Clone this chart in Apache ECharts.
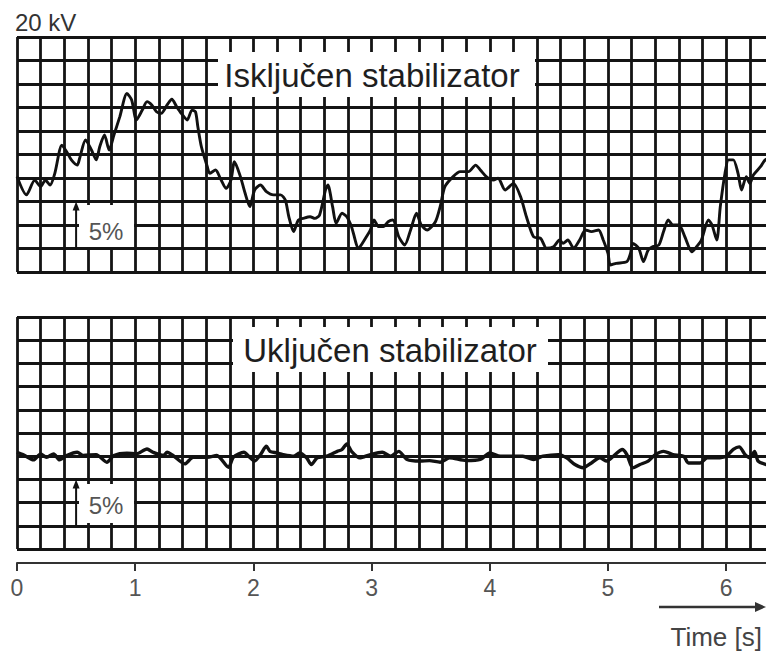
<!DOCTYPE html>
<html><head><meta charset="utf-8">
<script src="https://cdn.jsdelivr.net/npm/echarts@6/dist/echarts.min.js"></script>
<style>html,body{margin:0;padding:0;background:#fff}#c{width:766px;height:654px}</style>
</head><body><div id="c"></div>
<script>
// ---- data (time in s, value in grid divisions 0..10) ----
const topTimes = [0.00,0.08,0.15,0.20,0.24,0.28,0.32,0.38,0.42,0.46,0.51,0.53,0.58,0.63,0.67,0.70,0.74,0.78,0.82,0.87,0.93,0.97,1.01,1.06,1.10,1.14,1.18,1.22,1.27,1.31,1.35,1.39,1.44,1.48,1.51,1.53,1.56,1.61,1.63,1.68,1.72,1.77,1.81,1.84,1.89,1.93,1.97,2.01,2.06,2.11,2.17,2.23,2.27,2.30,2.34,2.38,2.42,2.48,2.52,2.56,2.61,2.63,2.67,2.70,2.75,2.79,2.83,2.89,2.93,2.99,3.02,3.06,3.10,3.14,3.18,3.23,3.28,3.33,3.38,3.42,3.47,3.54,3.58,3.62,3.69,3.75,3.82,3.88,3.92,3.97,4.03,4.07,4.13,4.20,4.26,4.31,4.37,4.43,4.48,4.54,4.59,4.62,4.66,4.71,4.76,4.81,4.86,4.92,4.96,5.00,5.02,5.07,5.16,5.19,5.21,5.26,5.30,5.34,5.38,5.43,5.47,5.51,5.55,5.60,5.65,5.71,5.75,5.79,5.85,5.88,5.92,5.95,5.99,6.02,6.06,6.10,6.13,6.17,6.20,6.23,6.29,6.33,6.40];
const topValues = [4.06,3.28,3.91,3.63,3.91,3.70,4.20,5.40,5.12,4.77,4.55,4.84,5.62,5.19,4.77,5.33,5.83,5.19,5.83,6.61,7.60,7.32,6.47,6.89,7.25,7.11,6.82,6.75,7.11,7.35,7.04,6.75,6.47,6.89,6.82,6.18,5.33,4.48,4.20,4.34,3.99,3.56,3.91,4.69,4.06,3.35,2.78,3.49,3.70,3.42,3.28,3.28,3.06,2.35,1.72,2.21,2.28,2.35,2.28,2.43,3.49,3.70,2.78,2.07,2.50,2.35,1.93,1.01,1.29,1.79,2.21,1.93,1.93,2.14,2.21,1.50,1.15,1.79,2.50,2.00,1.79,2.14,2.78,3.63,4.06,4.27,4.27,4.55,4.34,4.06,3.91,3.99,3.49,3.77,3.21,2.35,1.50,1.43,1.01,1.08,1.36,1.22,1.36,1.01,1.36,1.79,1.72,1.79,1.36,0.79,0.30,0.37,0.44,0.79,1.22,1.01,0.44,0.94,1.08,1.15,1.72,2.21,2.00,2.00,1.50,0.86,1.08,1.36,2.21,2.00,1.36,2.78,4.20,4.77,4.77,4.20,3.49,4.06,3.77,4.13,4.48,4.77,4.90];
const bottomTimes = [0.00,0.05,0.14,0.20,0.25,0.31,0.36,0.42,0.51,0.56,0.67,0.76,0.82,0.93,1.01,1.10,1.15,1.24,1.27,1.32,1.42,1.49,1.61,1.69,1.79,1.83,1.92,1.97,2.01,2.06,2.11,2.14,2.20,2.25,2.34,2.39,2.45,2.49,2.54,2.62,2.71,2.75,2.79,2.83,2.90,2.99,3.09,3.16,3.23,3.30,3.41,3.49,3.58,3.66,3.80,3.92,4.00,4.09,4.20,4.28,4.37,4.45,4.58,4.65,4.72,4.79,4.86,4.93,4.99,5.06,5.12,5.16,5.21,5.27,5.34,5.40,5.47,5.55,5.64,5.68,5.78,5.84,5.92,6.00,6.06,6.11,6.16,6.20,6.24,6.27,6.34,6.40];
const bottomValues = [4.17,4.07,3.84,4.10,3.95,4.10,3.84,4.03,4.17,4.03,4.07,3.74,4.03,4.13,4.10,4.31,4.17,4.03,4.17,4.03,3.67,3.95,3.95,4.03,3.52,3.95,4.17,3.95,3.79,4.07,4.43,4.21,4.14,4.07,4.00,4.14,3.93,3.64,3.93,4.00,4.21,4.29,4.53,4.21,3.93,4.07,4.17,4.00,4.21,3.86,3.79,3.81,3.74,3.93,3.81,3.86,4.14,4.00,4.00,4.00,3.86,4.00,4.07,3.93,3.64,3.50,3.71,3.93,3.79,4.07,4.29,4.07,3.50,3.64,3.79,4.07,4.21,4.07,4.00,3.71,3.71,3.93,3.93,4.00,4.29,4.40,4.07,3.93,4.21,3.79,3.64,3.60];
const xTickLabels = ['0','1','2','3','4','5','6'];
const panelTitles = ['Isključen stabilizator', 'Uključen stabilizator'];
const unitLabel = '20 kV';
const scaleLabel = '5%';
const timeLabel = 'Time [s]';

// ---- layout / style ----
const PX_PER_S = 118.2;
const FONT = "'Liberation Sans', Arial, sans-serif";
const gridLine = {show: true, lineStyle: {color: '#141414', width: 2.8}};

function xAxisFor(gridIndex, showAxis) {
  return {
    type: 'value', gridIndex: gridIndex, min: 0, max: 7, interval: 1,
    splitLine: gridLine, minorSplitLine: gridLine,
    minorTick: {show: false, splitNumber: 5},
    axisLine: {show: showAxis, onZero: false, lineStyle: {color: '#333', width: 2}},
    axisTick: {show: showAxis, length: 8, lineStyle: {color: '#333', width: 2}},
    axisLabel: {show: showAxis, margin: 13, fontSize: 23, color: '#555', fontFamily: FONT,
      formatter: function (v) { return xTickLabels[Math.round(v)] !== undefined && Math.abs(v - Math.round(v)) < 1e-6 ? xTickLabels[Math.round(v)] : ''; }},
    offset: showAxis ? 14 : 0
  };
}
function yAxisFor(gridIndex) {
  return {
    type: 'value', gridIndex: gridIndex, min: 0, max: 10, interval: 1,
    splitLine: gridLine,
    axisLine: {show: false}, axisTick: {show: false}, axisLabel: {show: false}
  };
}
function pairs(ts, vs) { return ts.map(function (t, i) { return [t, vs[i]]; }); }

const chart = echarts.init(document.getElementById('c'), null, {renderer: 'svg'});
chart.setOption({
  animation: false,
  backgroundColor: '#ffffff',
  grid: [
    {left: 17, top: 37, width: 7 * PX_PER_S, height: 235, containLabel: false, outerBoundsMode: 'none'},
    {left: 17, top: 317, width: 7 * PX_PER_S, height: 232, containLabel: false, outerBoundsMode: 'none'}
  ],
  xAxis: [xAxisFor(0, false), xAxisFor(1, true)],
  yAxis: [yAxisFor(0), yAxisFor(1)],
  series: [
    {type: 'line', xAxisIndex: 0, yAxisIndex: 0, data: pairs(topTimes, topValues),
     showSymbol: false, smooth: 0.25, silent: true, z: 3,
     lineStyle: {color: '#111', width: 2.9}},
    {type: 'line', xAxisIndex: 1, yAxisIndex: 1, data: pairs(bottomTimes, bottomValues),
     showSymbol: false, smooth: 0.25, silent: true, z: 3,
     lineStyle: {color: '#111', width: 3.4}}
  ]
});

function px(g, t, v) { return chart.convertToPixel({gridIndex: g}, [t, v]); }
function scaleArrow(g) {
  const a = px(g, 0.5, 1), b = px(g, 0.5, 3);
  return [
    {type: 'line', z: 4, shape: {x1: a[0], y1: a[1], x2: b[0], y2: b[1] + 6}, style: {stroke: '#111', lineWidth: 2}},
    {type: 'polygon', z: 4, shape: {points: [[b[0], b[1]], [b[0] - 3.5, b[1] + 9], [b[0] + 3.5, b[1] + 9]]}, style: {fill: '#111'}}
  ];
}
function textEl(x, y, text, size, color, align) {
  return {type: 'text', z: 5, x: x, y: y,
    style: {text: text, font: size + 'px ' + FONT, fill: color, textAlign: align, textVerticalAlign: 'middle'}};
}
function box(x, y, w, h) {
  return {type: 'rect', z: 1, shape: {x: x, y: y, width: w, height: h}, style: {fill: '#fff'}};
}

const elements = [
  box(218, 52, 317, 45), textEl(372, 75, panelTitles[0], 33, '#1e1e1e', 'center'),
  box(233, 327, 315, 45), textEl(390, 350, panelTitles[1], 33, '#1e1e1e', 'center'),
  box(79, 205, 55, 42), textEl(106, 231, scaleLabel, 24, '#555', 'center'),
  box(79, 484, 55, 39), textEl(106, 505, scaleLabel, 24, '#555', 'center'),
  textEl(15, 22, unitLabel, 24, '#333', 'left'),
  {type: 'line', z: 4, shape: {x1: 659, y1: 607, x2: 758, y2: 607}, style: {stroke: '#333', lineWidth: 2.5}},
  {type: 'polygon', z: 4, shape: {points: [[766, 607], [755, 602], [755, 612]]}, style: {fill: '#333'}},
  textEl(762, 637, timeLabel, 26, '#444', 'right')
].concat(scaleArrow(0), scaleArrow(1));

chart.setOption({graphic: {elements: elements}});
</script>
</body></html>
